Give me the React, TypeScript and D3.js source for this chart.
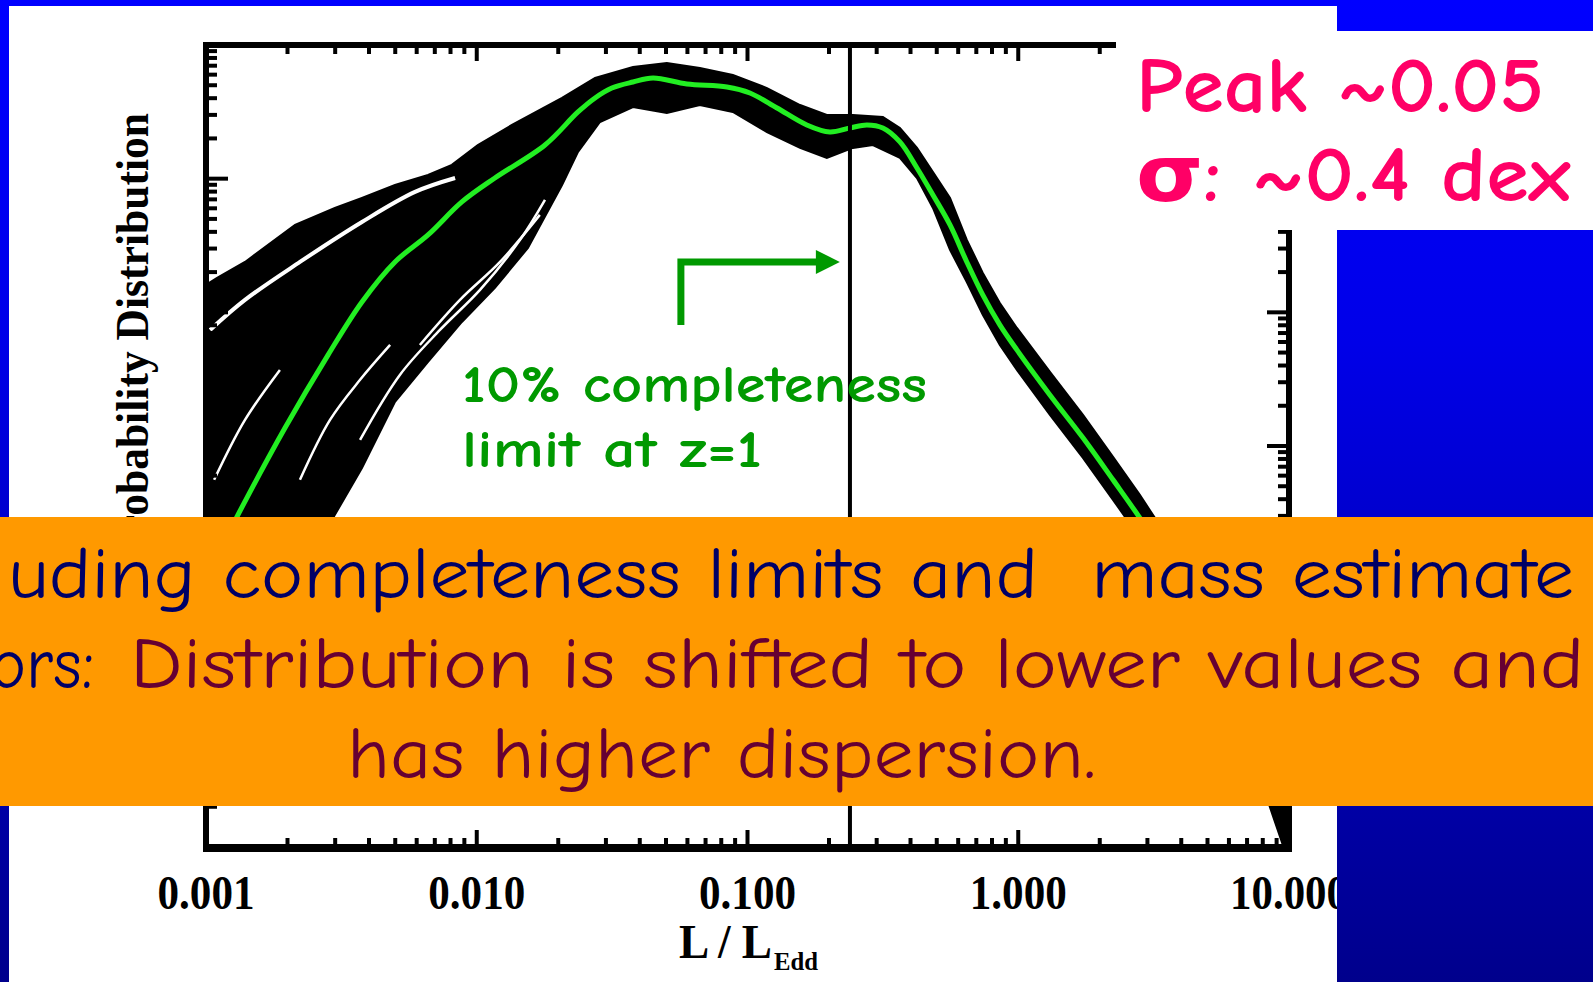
import React, { useEffect } from "react";
import * as d3 from "d3";

const W = 1593;
const H = 982;

// x-axis decade labels (L / L_Edd)
const xTickLabels = [0.001, 0.01, 0.1, 1, 10];
// 10% completeness limit at z=1 (L / L_Edd)
const completenessLimit = 0.239;

// median of the realisations: [log10(L/LEdd), log10(probability)]
const medianCurve: [number, number][] = [
  [-3.0, -3.986], [-2.882, -3.515], [-2.708, -2.864], [-2.549, -2.318], [-2.424, -1.922],
  [-2.302, -1.623], [-2.18, -1.421], [-2.055, -1.174], [-1.933, -0.995], [-1.748, -0.748],
  [-1.626, -0.501], [-1.563, -0.396], [-1.501, -0.322], [-1.423, -0.277], [-1.349, -0.247],
  [-1.224, -0.292], [-1.076, -0.314], [-0.991, -0.359], [-0.891, -0.471], [-0.781, -0.598],
  [-0.696, -0.651], [-0.622, -0.621], [-0.559, -0.598], [-0.5, -0.621], [-0.437, -0.725],
  [-0.374, -0.92], [-0.315, -1.122], [-0.252, -1.346], [-0.19, -1.623], [-0.131, -1.87],
  [-0.068, -2.094], [-0.005, -2.281], [0.117, -2.618], [0.239, -2.939], [0.35, -3.253],
  [0.449, -3.538], [0.597, -4.001], [0.745, -4.525], [0.856, -5.011], [0.937, -5.273],
  [1.0, -5.609],
];

// upper edge of the cloud of realisations
const envelopeUpper: [number, number][] = [
  [-3.0, -1.795], [-2.959, -1.743], [-2.856, -1.623], [-2.671, -1.346], [-2.524, -1.219],
  [-2.424, -1.144], [-2.302, -1.047], [-2.18, -0.972], [-2.092, -0.897], [-1.996, -0.748],
  [-1.87, -0.598], [-1.685, -0.396], [-1.563, -0.247], [-1.423, -0.165], [-1.298, -0.135],
  [-1.176, -0.172], [-1.054, -0.224], [-0.928, -0.322], [-0.806, -0.449], [-0.707, -0.524],
  [-0.611, -0.524], [-0.5, -0.538], [-0.437, -0.621], [-0.374, -0.77], [-0.315, -0.95],
  [-0.252, -1.144], [-0.19, -1.458], [-0.131, -1.705], [-0.068, -1.93], [-0.005, -2.117],
  [0.117, -2.446], [0.239, -2.767], [0.35, -3.081], [0.449, -3.366], [0.597, -3.822],
  [0.745, -4.315], [0.856, -4.787], [0.937, -5.108], [1.0, -5.422],
];

// lower edge of the cloud of realisations
const envelopeLower: [number, number][] = [
  [-3.0, -5.235], [-2.801, -4.525], [-2.524, -3.515], [-2.424, -3.164], [-2.302, -2.67],
  [-2.18, -2.371], [-2.055, -2.072], [-1.933, -1.817], [-1.811, -1.518], [-1.685, -1.047],
  [-1.626, -0.8], [-1.545, -0.576], [-1.423, -0.464], [-1.298, -0.509], [-1.176, -0.449],
  [-1.054, -0.501], [-0.928, -0.651], [-0.806, -0.77], [-0.707, -0.845], [-0.611, -0.77],
  [-0.537, -0.748], [-0.437, -0.845], [-0.374, -0.995], [-0.315, -1.219], [-0.252, -1.533],
  [-0.19, -1.773], [-0.131, -2.019], [-0.068, -2.244], [-0.005, -2.431], [0.117, -2.767],
  [0.239, -3.089], [0.35, -3.403], [0.449, -3.687], [0.597, -4.151], [0.745, -4.689],
  [0.856, -5.198], [0.929, -5.699], [0.977, -5.983], [1.0, -6.0],
];

// white gaps between strands inside the cloud
const gapStrandA: [number, number][] = [
  [-2.985, -2.132], [-2.856, -1.907], [-2.653, -1.623], [-2.424, -1.324], [-2.228, -1.099], [-2.08, -0.995],
];
const gapStrandB: [number, number][] = [
  [-2.431, -2.954], [-2.284, -2.468], [-2.136, -2.132], [-1.988, -1.832], [-1.84, -1.458], [-1.748, -1.159],
];
const gapStrandC: [number, number][] = [
  [-2.97, -3.253], [-2.856, -2.805], [-2.727, -2.431],
];
const gapStrandD: [number, number][] = [
  [-2.21, -2.244], [-2.062, -1.907], [-1.914, -1.623], [-1.767, -1.271],
];
const gapStrandE: [number, number][] = [
  [-2.653, -3.253], [-2.542, -2.805], [-2.431, -2.505], [-2.32, -2.244],
];

// green annotation arrow: [log10(L/LEdd), log10(P)]
const arrowPath: [number, number][] = [
  [-1.246, -2.094], [-1.246, -1.623], [-0.74, -1.623],
];
const arrowTip: [number, number] = [-0.659, -1.623];

const annotationLines = ["10% completeness", "limit at z=1"];
const summaryLines = ["Peak ~0.05", "σ: ~0.4 dex"];
const bannerLine1 = "uding completeness limits and  mass estimate";
const bannerLine2a = "ors:";
const bannerLine2b = "Distribution is shifted to lower values and";
const bannerLine3 = "has higher dispersion.";

const SERIF = "'Liberation Serif', 'Times New Roman', serif";
const COMIC = "'Comic Sans MS', 'Comic Neue', 'DejaVu Sans', sans-serif";

export default function App() {
  useEffect(() => {
    document.body.style.margin = "0";
    document.body.style.overflow = "hidden";
  }, []);

  const x = d3.scaleLog().domain([1e-3, 10]).range([206, 1289]);
  const y = d3.scaleLog().domain([1e-6, 1]).range([847, 45]);
  const px = (d: [number, number]) => x(Math.pow(10, d[0]));
  const py = (d: [number, number]) => y(Math.pow(10, d[1]));

  const smooth = d3.line<[number, number]>().x(px).y(py).curve(d3.curveCatmullRom.alpha(0.5));
  const straight = d3.line<[number, number]>().x(px).y(py);

  const bandPath = straight([...envelopeUpper, ...envelopeLower.slice().reverse()]) + "Z";

  const xTicks = x.ticks();
  const yTicks = y.ticks();
  const isMajor = (v: number) => Math.abs(Math.log10(v) - Math.round(Math.log10(v))) < 1e-6;
  const fmt = d3.format(".3f");

  const tipX = px(arrowTip);
  const tipY = py(arrowTip);
  const headBaseX = px(arrowPath[arrowPath.length - 1]);

  const [yTop, yBottom] = [y.range()[1], y.range()[0]];
  const [xLeft, xRight] = x.range();

  return (
    <svg width={W} height={H} style={{ position: "fixed", left: 0, top: 0, display: "block" }}>
      <defs>
        <linearGradient id="slideBlue" x1="0" y1="0" x2="0" y2={H} gradientUnits="userSpaceOnUse">
          <stop offset="0" stopColor="#0000ff" />
          <stop offset="0.35" stopColor="#0000e8" />
          <stop offset="1" stopColor="#00008c" />
        </linearGradient>
      </defs>
      <rect x={0} y={0} width={W} height={H} fill="url(#slideBlue)" />
      <rect x={9} y={6} width={1328} height={H - 6} fill="#ffffff" />

      {/* cloud of realisations */}
      <path d={bandPath} fill="#000" stroke="#000" strokeWidth={2} />
      {[gapStrandA, gapStrandB, gapStrandC, gapStrandD, gapStrandE].map((g, i) => (
        <path key={i} d={smooth(g) || ""} fill="none" stroke="#fff" strokeWidth={i === 0 ? 4 : 2.5} />
      ))}
      {/* median */}
      <path d={smooth(medianCurve) || ""} fill="none" stroke="#22ee22" strokeWidth={5} />

      {/* completeness limit */}
      <line x1={x(completenessLimit)} x2={x(completenessLimit)} y1={yTop} y2={yBottom} stroke="#000" strokeWidth={4} />

      {/* ticks */}
      {xTicks.map((v, i) => {
        const m = isMajor(v);
        return (
          <g key={"xt" + i}>
            <line x1={x(v)} x2={x(v)} y1={yTop} y2={yTop + (m ? 16 : 9)} stroke="#000" strokeWidth={4} />
            <line x1={x(v)} x2={x(v)} y1={yBottom} y2={yBottom - (m ? 17 : 9)} stroke="#000" strokeWidth={4} />
          </g>
        );
      })}
      {yTicks.map((v, i) => {
        const m = isMajor(v);
        return (
          <g key={"yt" + i}>
            <line x1={xLeft} x2={xLeft + (m ? 22 : 11)} y1={y(v)} y2={y(v)} stroke="#000" strokeWidth={4} />
            <line x1={xRight} x2={xRight - (m ? 22 : 11)} y1={y(v)} y2={y(v)} stroke="#000" strokeWidth={4} />
          </g>
        );
      })}
      {/* frame */}
      <rect x={xLeft} y={yTop} width={xRight - xLeft} height={yBottom - yTop} fill="none" stroke="#000" strokeWidth={6} />
      <line x1={xLeft - 3} x2={xRight + 3} y1={yBottom + 1} y2={yBottom + 1} stroke="#000" strokeWidth={8} />

      {/* tick labels */}
      {xTickLabels.map((v, i) => {
        const s = fmt(v);
        return (
          <text key={"xl" + i} x={x(v)} y={909} textAnchor="middle" fontFamily={SERIF} fontWeight="bold"
            fontSize={48} textLength={s.length > 5 ? 118 : 97} lengthAdjust="spacingAndGlyphs" fill="#000">
            {s}
          </text>
        );
      })}
      <text y={958} fontFamily={SERIF} fontWeight="bold" fill="#000" style={{ whiteSpace: "pre" }}>
        <tspan x={679} fontSize={48} textLength={93} lengthAdjust="spacingAndGlyphs">L / L</tspan>
        <tspan x={774} y={970} fontSize={26} textLength={44} lengthAdjust="spacingAndGlyphs">Edd</tspan>
      </text>
      <text transform="translate(148,113) rotate(-90)" textAnchor="end" fontFamily={SERIF} fontWeight="bold"
        fontSize={46} textLength={448} lengthAdjust="spacingAndGlyphs">Probability Distribution</text>

      {/* green annotation */}
      <path d={straight(arrowPath) || ""} fill="none" stroke="#009900" strokeWidth={7} strokeLinejoin="miter" strokeLinecap="butt" />
      <path d={`M${headBaseX - 2},${tipY - 12}L${tipX},${tipY}L${headBaseX - 2},${tipY + 12}Z`} fill="#009900" />
      {annotationLines.map((t, i) => (
        <text key={"an" + i} x={462} y={402 + i * 65} fontFamily={COMIC} fontWeight="bold" fontSize={53}
          textLength={i === 0 ? 465 : 300} lengthAdjust="spacingAndGlyphs" fill="#009900">{t}</text>
      ))}

      {/* right blue panel */}
      <rect x={1337} y={0} width={W - 1337} height={H} fill="url(#slideBlue)" />

      {/* summary box */}
      <rect x={1116} y={31} width={W - 1116} height={199} fill="#ffffff" />
      {summaryLines.map((t, i) => (
        <text key={"sm" + i} x={1136} y={112 + i * 89} fontFamily={COMIC} fontWeight="bold" fontSize={78}
          textLength={i === 0 ? 408 : 435} lengthAdjust="spacingAndGlyphs" fill="#ff0066">{t}</text>
      ))}

      {/* orange banner */}
      <rect x={0} y={517} width={W} height={289} fill="#ff9900" />
      <text x={8} y={598} fontFamily={COMIC} fontSize={72} textLength={1566} lengthAdjust="spacingAndGlyphs"
        fill="#000066" style={{ whiteSpace: "pre" }}>{bannerLine1}</text>
      <text x={-10} y={688} fontFamily={COMIC} fontSize={72} textLength={104} lengthAdjust="spacingAndGlyphs"
        fill="#000066">{bannerLine2a}</text>
      <text x={130} y={688} fontFamily={COMIC} fontSize={72} textLength={1454} lengthAdjust="spacingAndGlyphs"
        fill="#660033">{bannerLine2b}</text>
      <text x={347} y={778} fontFamily={COMIC} fontSize={72} textLength={749} lengthAdjust="spacingAndGlyphs"
        fill="#660033">{bannerLine3}</text>
    </svg>
  );
}
